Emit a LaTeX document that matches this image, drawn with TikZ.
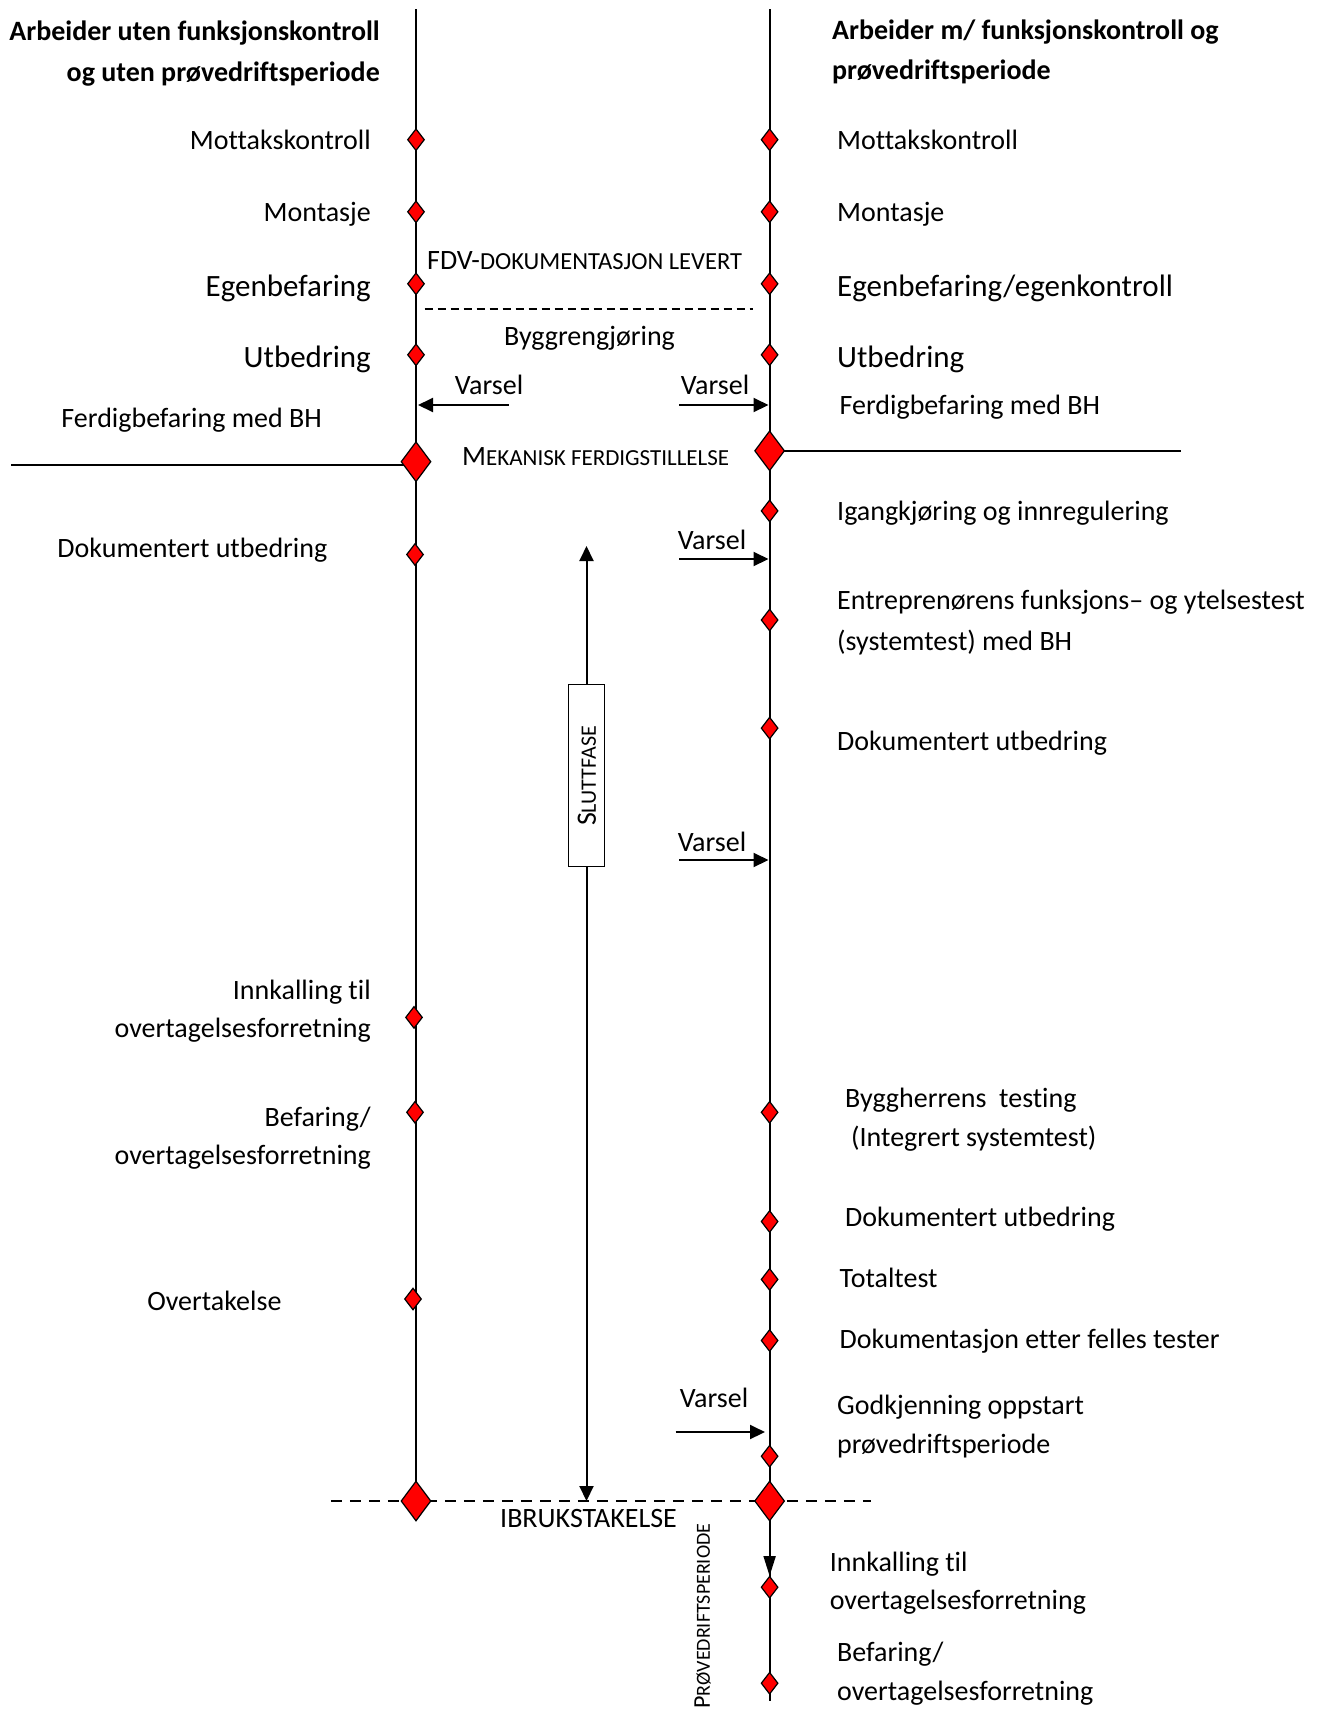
\documentclass[tikz,border=0pt]{standalone}
\usepackage{fontspec}
\setmainfont{Carlito}[Ligatures=NoCommon]
\usetikzlibrary{shapes.geometric,arrows.meta}
\newcommand\smc[2]{{\fontsize{#1}{#1}\selectfont #2}}
\tikzset{
  dia/.style={diamond, draw=black, fill=red, line width=1.2pt, minimum width=17pt, minimum height=22pt, inner sep=0pt},
  bigdia/.style={diamond, draw=black, fill=red, line width=1.2pt, minimum width=30pt, minimum height=40pt, inner sep=0pt},
  lab/.style={font=\fontsize{28}{34}\selectfont, inner sep=0pt, yshift=-7pt},
  vlab/.style={font=\fontsize{28}{34}\selectfont, inner sep=0pt},
  biglab/.style={font=\fontsize{31}{37}\selectfont, inner sep=0pt, yshift=-7pt},
  ttl/.style={font=\bfseries\fontsize{28}{34}\selectfont, inner sep=0pt, yshift=-8pt},
  ll/.style={lab, anchor=mid east},
  rl/.style={lab, anchor=mid west},
  axis/.style={line width=2pt},
  arr/.style={line width=2pt, -{Triangle[length=15pt,width=14pt]}},
  dsh/.style={line width=1.5pt, dash pattern=on 8pt off 5pt},
  dshl/.style={line width=1.5pt, dash pattern=on 11pt off 8pt}
}
\begin{document}
\begin{tikzpicture}[x=1pt,y=-1pt]
\useasboundingbox (0,0) rectangle (1323,1711);
% axes
\coordinate (Ltop) at (416,9);
\coordinate (Rtop) at (769.6,9);
\coordinate (Rbot) at (769.6,1701);
\draw[axis] (Ltop) -- (416,1501);
\draw[axis] (Rtop) -- (Rbot);
% horizontal lines
\coordinate (hL) at (11,465);
\coordinate (hLe) at (416,465);
\coordinate (hR) at (1181,450.8);
\draw[axis] (hL) -- (hLe);
\draw[axis] (769.6,450.8) -- (hR);
\coordinate (fdvA) at (424.6,309);
\coordinate (fdvB) at (753,309);
\draw[dsh] (fdvA) -- (fdvB);
\coordinate (ibA) at (330.8,1501);
\coordinate (ibB) at (871,1501);
\draw[dshl] (ibA) -- (ibB);
% sluttfase
\node[draw, line width=1.5pt, minimum width=36pt, minimum height=182pt, inner sep=0pt, fill=white] (slutt) at (586.5,775.6) {};
\node[rotate=90, inner sep=0pt, font=\fontsize{28}{34}\selectfont] (sluttT) at (587,776) {S\smc{22}{LUTTFASE}};
\coordinate (sTop) at (586.5,546);
\coordinate (sBot) at (586.5,1501);
\draw[arr] (slutt.north) -- (sTop);
\draw[arr] (slutt.south) -- (sBot);
% varsel arrows
\coordinate (v1s) at (508.7,405);
\coordinate (v1e) at (418,405);
\draw[arr] (v1s) -- (v1e);
\node[vlab] (v1) at (489,385) {Varsel};
\coordinate (v2s) at (679,405);
\coordinate (v2e) at (768.5,405);
\draw[arr] (v2s) -- (v2e);
\node[vlab] (v2) at (715,385) {Varsel};
\coordinate (v3s) at (679,559);
\coordinate (v3e) at (768.5,559);
\draw[arr] (v3s) -- (v3e);
\node[vlab] (v3) at (712,540) {Varsel};
\coordinate (v4s) at (679,860);
\coordinate (v4e) at (768.5,860);
\draw[arr] (v4s) -- (v4e);
\node[vlab] (v4) at (712,841.6) {Varsel};
\coordinate (v5s) at (675.7,1432);
\coordinate (v5e) at (765,1432);
\draw[arr] (v5s) -- (v5e);
\node[vlab] (v5) at (714,1398) {Varsel};
\coordinate (pA) at (769.6,1541);
\coordinate (pB) at (769.6,1576);
\draw[line width=2pt, -{Triangle[length=20pt,width=12pt]}] (pA) -- (pB);
% left diamonds
\node[dia] (Lmot) at (416,139.7) {};
\node[dia] (Lmon) at (416,211.8) {};
\node[dia] (Legen) at (416,283.8) {};
\node[dia] (Lutb) at (416,354.8) {};
\node[bigdia] (Lmek) at (416,461.7) {};
\node[dia] (Ldok) at (415,554.5) {};
\node[dia] (Linnk) at (414,1017.4) {};
\node[dia] (Lbef) at (415,1112.3) {};
\node[dia] (Lovt) at (413,1299) {};
\node[bigdia] (Libr) at (416,1501) {};
% right diamonds
\node[dia] (Rmot) at (769.6,139.7) {};
\node[dia] (Rmon) at (769.6,211.8) {};
\node[dia] (Regen) at (769.6,283.8) {};
\node[dia] (Rutb) at (769.6,354.8) {};
\node[bigdia] (Rmek) at (769.6,450.8) {};
\node[dia] (Rigang) at (769.6,510.9) {};
\node[dia] (Rentr) at (769.6,620) {};
\node[dia] (Rdok) at (769.6,728.1) {};
\node[dia] (Rbyggh) at (769.6,1112.3) {};
\node[dia] (Rdok2) at (769.6,1221.5) {};
\node[dia] (Rtot) at (769.6,1279.4) {};
\node[dia] (Rdokf) at (769.6,1340.5) {};
\node[dia] (Rgodk) at (769.6,1456.2) {};
\node[bigdia] (Ribr) at (769.6,1501) {};
\node[dia] (Rinnk) at (769.6,1587.2) {};
\node[dia] (Rbef) at (769.6,1683.2) {};
% titles
\node[ttl, anchor=mid east] (tL1) at (380,30.6) {Arbeider uten funksjonskontroll};
\node[ttl, anchor=mid east] (tL2) at (380,71) {og uten prøvedriftsperiode};
\node[ttl, anchor=mid west] (tR1) at (832,29.5) {Arbeider m/ funksjonskontroll og};
\node[ttl, anchor=mid west] (tR2) at (832,68.8) {prøvedriftsperiode};
% left labels
\node[ll] (lMot) at (371,139.7) {Mottakskontroll};
\node[ll] (lMon) at (371,211.8) {Montasje};
\node[biglab, anchor=mid east] (lEgen) at (371,287) {Egenbefaring};
\node[biglab, anchor=mid east] (lUtb) at (371,358) {Utbedring};
\node[ll] (lFerd) at (322,418) {Ferdigbefaring med BH};
\node[ll] (lDok) at (327.5,548) {Dokumentert utbedring};
\node[ll] (lInn1) at (371,990) {Innkalling til};
\node[ll] (lInn2) at (371,1028) {overtagelsesforretning};
\node[ll] (lBef1) at (371,1117) {Befaring/};
\node[ll] (lBef2) at (371,1155) {overtagelsesforretning};
\node[ll] (lOvt) at (281.6,1301) {Overtakelse};
% right labels
\node[rl] (rMot) at (837,139.7) {Mottakskontroll};
\node[rl] (rMon) at (837,211.8) {Montasje};
\node[biglab, anchor=mid west] (rEgen) at (837,287) {Egenbefaring/egenkontroll};
\node[biglab, anchor=mid west] (rUtb) at (837,358) {Utbedring};
\node[rl] (rFerd) at (839.5,405) {Ferdigbefaring med BH};
\node[rl] (rIgang) at (837,511) {Igangkjøring og innregulering};
\node[rl] (rEntr1) at (837,600.4) {Entreprenørens funksjons– og ytelsestest};
\node[rl] (rEntr2) at (837,640.8) {(systemtest) med BH};
\node[rl] (rDok) at (837,741) {Dokumentert utbedring};
\node[rl] (rBygg1) at (845,1098) {Byggherrens\ \ testing};
\node[rl] (rBygg2) at (851,1137.5) {(Integrert systemtest)};
\node[rl] (rDok2) at (845,1217) {Dokumentert utbedring};
\node[rl] (rTot) at (839.5,1278) {Totaltest};
\node[rl] (rDokf) at (839.5,1339) {Dokumentasjon etter felles tester};
\node[rl] (rGodk1) at (837,1405) {Godkjenning oppstart};
\node[rl] (rGodk2) at (837,1444) {prøvedriftsperiode};
\node[rl] (rInn1) at (829.6,1562) {Innkalling til};
\node[rl] (rInn2) at (829.6,1600) {overtagelsesforretning};
\node[rl] (rBef1) at (837,1651.6) {Befaring/};
\node[rl] (rBef2) at (837,1691) {overtagelsesforretning};
% middle texts
\node[lab, anchor=mid west] (fdv) at (427,260) {FDV-\smc{24.5}{DOKUMENTASJON LEVERT}};
\node[vlab, yshift=-2pt] (bygg) at (589.5,336) {Byggrengjøring};
\node[lab, anchor=mid west] (mek) at (462,456) {M\smc{23}{EKANISK FERDIGSTILLELSE}};
\node[lab, anchor=mid west] (ibr) at (500,1518) {IBRUKSTAKELSE};
\node[rotate=90, inner sep=0pt, anchor=mid west, font=\fontsize{24}{28}\selectfont] (prov) at (707.4,1709) {P{\fontsize{20}{24}\selectfont RØVEDRIFTSPERIODE}};
\end{tikzpicture}
\end{document}
